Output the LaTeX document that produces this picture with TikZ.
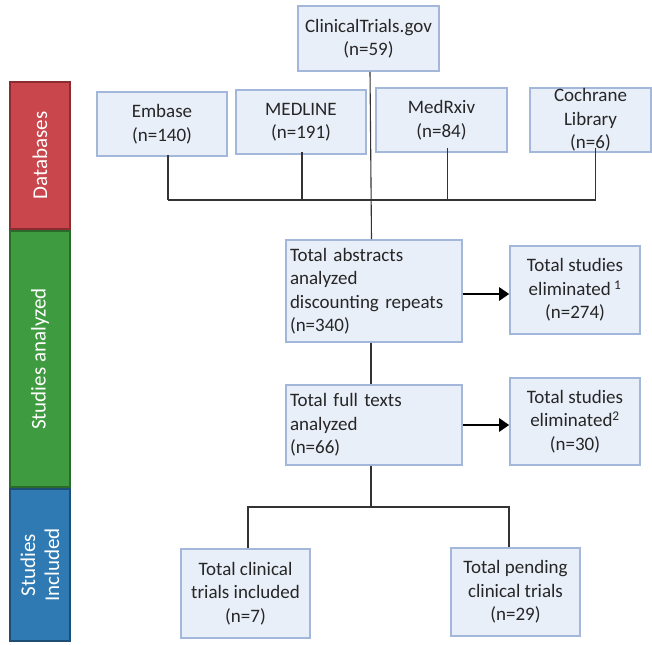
\documentclass[tikz,border=0pt]{standalone}
\usepackage{fontspec}
\setmainfont{Carlito}
\usetikzlibrary{arrows.meta,positioning}
\definecolor{boxfill}{HTML}{E9EFF9}
\definecolor{boxline}{HTML}{A3B7DB}
\definecolor{dbred}{HTML}{C8464C}
\definecolor{dbredd}{HTML}{8A2C30}
\definecolor{sagreen}{HTML}{3E9B3F}
\definecolor{sagreend}{HTML}{2A6A2B}
\definecolor{siblue}{HTML}{2F7AB2}
\definecolor{siblued}{HTML}{1E4E75}
\definecolor{conn}{HTML}{333333}
\tikzset{
  fbox/.style={draw=boxline, fill=boxfill, line width=1.6pt, inner sep=2pt,
    font=\fontsize{19}{23.5}\selectfont, align=center, text=black!85},
  sidebar/.style={line width=1.4pt, text=white, rotate=90, align=center,
    font=\fontsize{21}{24}\selectfont, inner sep=0pt},
  link/.style={draw=conn, line width=1.1pt},
  bigarrow/.style={draw=black, line width=2.8pt, -{Triangle[length=10pt,width=13pt]}}
}
\begin{document}
\begin{tikzpicture}[x=1pt,y=-1pt]
\useasboundingbox (0,0) rectangle (652,644);
% side bars
\node[sidebar, draw=dbredd, fill=dbred, minimum width=147pt, minimum height=60pt] (sdb) at (40,155.5) {Databases};
\node[sidebar, draw=sagreend, fill=sagreen, minimum width=256pt, minimum height=60pt] (ssa) at (40,359) {Studies analyzed};
\node[sidebar, draw=siblued, fill=siblue, minimum width=152pt, minimum height=60pt] (ssi) at (40,565) {Studies\\Included};
% boxes
\node[fbox, minimum width=141pt, minimum height=65pt] (ct) at (368.5,38.5) {ClinicalTrials.gov\\(n=59)};
\node[fbox, minimum width=130pt, minimum height=64pt] (emb) at (162,124) {Embase\\(n=140)};
\node[fbox, minimum width=130pt, minimum height=64pt] (med) at (301,122) {MEDLINE\\(n=191)};
\node[fbox, minimum width=131pt, minimum height=64pt] (mrx) at (441.5,120) {MedRxiv\\(n=84)};
\node[fbox, minimum width=121pt, minimum height=64pt, inner sep=0pt] (coc) at (590.5,120) {Cochrane\\Library\\(n=6)};
\node[fbox, minimum width=176pt, minimum height=102pt, align=left, text width=168pt] (abs) at (374,291) {Total abstracts\\analyzed\\discounting repeats\\(n=340)};
\node[fbox, minimum width=130pt, minimum height=88pt] (el1) at (575,290) {Total studies\\eliminated\,\textsuperscript{1}\\(n=274)};
\node[fbox, minimum width=176pt, minimum height=80pt, align=left, text width=168pt] (full) at (374,425) {Total full texts\\analyzed\\(n=66)};
\node[fbox, minimum width=130pt, minimum height=87pt] (el2) at (575,421.5) {Total studies\\eliminated\textsuperscript{2}\\(n=30)};
\node[fbox, minimum width=129pt, minimum height=89pt] (inc) at (245.5,593.5) {Total clinical\\trials included\\(n=7)};
\node[fbox, minimum width=129pt, minimum height=88pt] (pen) at (515.5,592) {Total pending\\clinical trials\\(n=29)};
% bus coordinates
\coordinate (busL) at (168,200);
\coordinate (busR) at (596,200);
\coordinate (bus2) at (371,507);
% database stubs
\draw[link] ([xshift=6pt,yshift=1.5pt]emb.south) |- (busL);
\draw[link] ([xshift=1pt,yshift=3pt]med.south) -- ([xshift=1pt]med.south |- busL);
\draw[link] ([xshift=6pt,yshift=5pt]mrx.south) -- ([xshift=6pt]mrx.south |- busL);
\draw[link] ([xshift=5pt,yshift=5pt]coc.south) |- (busL);
% trunk
\draw[link] ([xshift=1.5pt]ct.south) -- ([xshift=-2.5pt]abs.north);
\draw[link] ([xshift=-3pt]abs.south) -- ([xshift=-3pt]full.north);
\draw[link] ([xshift=-3pt]full.south) -- (bus2);
\draw[link] (inc.north) ++(2.5pt,0) |- (bus2) -| ([xshift=-6.5pt]pen.north);
% arrows
\draw[bigarrow] (abs.east |- 0,294) -- (el1.west |- 0,294);
\draw[bigarrow] (full.east |- 0,425) -- (el2.west |- 0,425);
\end{tikzpicture}
\end{document}
